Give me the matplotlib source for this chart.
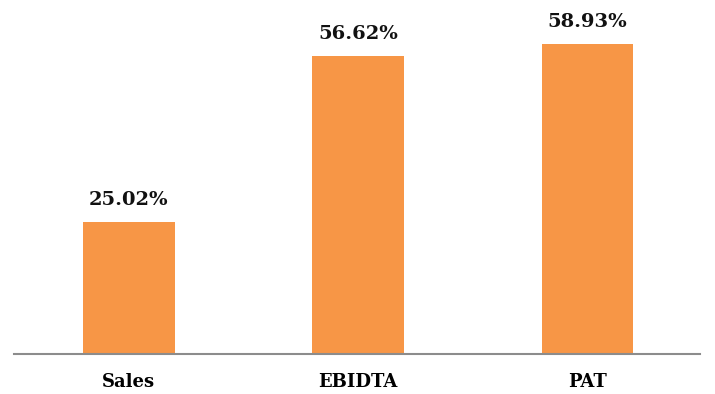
import matplotlib.pyplot as plt

categories = ['Sales', 'EBIDTA', 'PAT']
growth = [25.02, 56.62, 58.93]

fig = plt.figure(figsize=(7.15, 3.94), dpi=100)
ax = fig.add_axes([14 / 715, 40 / 394, 686 / 715, 354 / 394])

x = range(len(categories))
bars = ax.bar(x, growth, width=0.40, color='#F79646')

# value labels above each bar
for b, v in zip(bars, growth):
    ax.text(b.get_x() + b.get_width() / 2, v + 2.5, f'{v:.2f}%',
            ha='center', va='bottom', fontsize=14, fontweight='bold',
            family='DejaVu Serif', color='#111111')

ax.set_xlim(-0.50, 2.49)
ax.set_ylim(0, 67.3)
ax.set_xticks(list(x))
ax.set_xticklabels(categories, fontsize=13, fontweight='bold', family='DejaVu Serif')
ax.tick_params(axis='x', length=0, pad=14)
ax.set_yticks([])
for side in ['top', 'left', 'right']:
    ax.spines[side].set_visible(False)
ax.spines['bottom'].set_color('#8C8C8C')
ax.spines['bottom'].set_linewidth(1.5)

fig.savefig('out.png', dpi=100)
